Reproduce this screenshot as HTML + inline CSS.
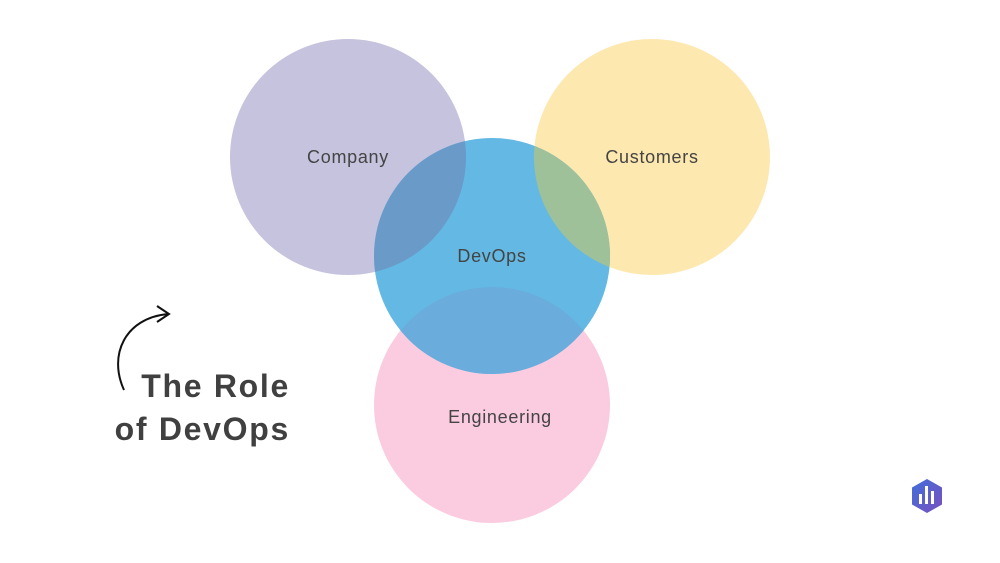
<!DOCTYPE html>
<html><head><style>
body{margin:0;width:1000px;height:563px;background:#fff;overflow:hidden}
svg{display:block}
text{font-family:"Liberation Sans",sans-serif}
</style></head><body>
<svg width="1000" height="563" viewBox="0 0 1000 563">
<defs>
<clipPath id="cc"><circle cx="348" cy="157" r="118"/></clipPath>
<clipPath id="cu"><circle cx="652" cy="157" r="118"/></clipPath>
<clipPath id="ce"><circle cx="492" cy="405" r="118"/></clipPath>
<linearGradient id="lg" x1="0" y1="0" x2="1" y2="1"><stop offset="0" stop-color="#3f6fd8"/><stop offset="1" stop-color="#7a4fc0"/></linearGradient>
</defs>
<circle cx="348" cy="157" r="118" fill="#c6c3de"/>
<circle cx="652" cy="157" r="118" fill="#fde8b0"/>
<circle cx="492" cy="405" r="118" fill="#fbcbe0"/>
<circle cx="492" cy="256" r="118" fill="#63b9e3"/>
<circle cx="492" cy="256" r="118" fill="#6a9ac8" clip-path="url(#cc)"/>
<circle cx="492" cy="256" r="118" fill="#9fc19a" clip-path="url(#cu)"/>
<circle cx="492" cy="256" r="118" fill="#6aaddc" clip-path="url(#ce)"/>
<g font-size="18" fill="#444" text-anchor="middle" letter-spacing="0.7">
<text x="348" y="163">Company</text>
<text x="652" y="163">Customers</text>
<text x="492" y="262">DevOps</text>
<text x="500" y="423">Engineering</text>
</g>
<g font-size="32" font-weight="bold" fill="#404040" text-anchor="end" letter-spacing="1.7">
<text x="290" y="397">The Role</text>
<text x="290" y="440">of DevOps</text>
</g>
<path d="M124 390 C108 355 125 318 168 314" fill="none" stroke="#111" stroke-width="2"/>
<path d="M157 306 L169 314 L157 322" fill="none" stroke="#111" stroke-width="2"/>
<polygon points="927,479 942,487.5 942,504.5 927,513 912,504.5 912,487.5" fill="url(#lg)"/>
<rect x="919" y="494" width="3" height="10" fill="#fff"/>
<rect x="925" y="486" width="3" height="18" fill="#fff"/>
<rect x="931" y="491" width="3" height="13" fill="#fff"/>
</svg>
</body></html>
